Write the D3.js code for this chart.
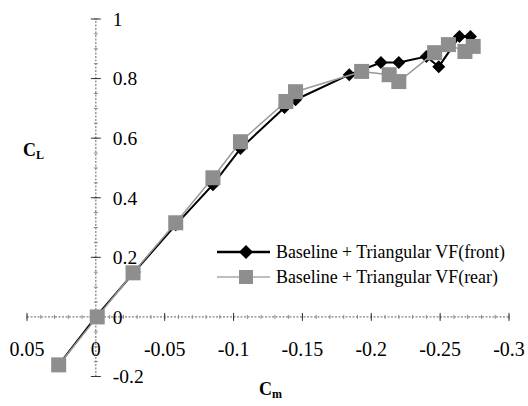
<!DOCTYPE html>
<html>
<head>
<meta charset="utf-8">
<script src="https://cdn.jsdelivr.net/npm/d3@7"></script>
<style>
  body { margin: 0; background: #fff; }
</style>
</head>
<body>
<svg id="chart" width="528" height="406"></svg>
<script>
// Baseline + Triangular VF(front)
const cmFront = [0.027, 0, -0.028, -0.058, -0.085, -0.105, -0.137, -0.145, -0.184, -0.207, -0.220, -0.240, -0.249, -0.264, -0.272];
const clFront = [-0.161, 0, 0.151, 0.309, 0.444, 0.565, 0.703, 0.729, 0.813, 0.854, 0.854, 0.874, 0.840, 0.941, 0.941];

// Baseline + Triangular VF(rear)
const cmRear = [0.027, -0.001, -0.027, -0.058, -0.085, -0.105, -0.138, -0.145, -0.193, -0.213, -0.220, -0.246, -0.256, -0.268, -0.274];
const clRear = [-0.161, 0, 0.148, 0.316, 0.467, 0.588, 0.723, 0.756, 0.824, 0.813, 0.790, 0.887, 0.914, 0.891, 0.908];

const xTicks = [0.05, 0, -0.05, -0.1, -0.15, -0.2, -0.25, -0.3];
const yTicks = [-0.2, 0, 0.2, 0.4, 0.6, 0.8, 1];

const seriesNames = ['Baseline + Triangular VF(front)', 'Baseline + Triangular VF(rear)'];

const serif = 'Liberation Serif';

const svg = d3.select('#chart');

const x = d3.scaleLinear().domain([0.05, -0.3]).range([27, 509]);
const y = d3.scaleLinear().domain([-0.2, 1]).range([376.5, 19]);

const fmt = (d) => (d === 0 ? '0' : String(+d.toFixed(2)));

// minor ticks
const xMinor = d3.range(0, 36).map((i) => +(0.05 - i * 0.01).toFixed(2));
const yMinor = d3.range(0, 25).map((i) => +(-0.2 + i * 0.05).toFixed(2));

// x axis (crosses at CL = 0)
const gx = svg.append('g').attr('transform', 'translate(0,' + y(0) + ')');
gx.append('line')
  .attr('x1', x(0.05)).attr('x2', x(-0.3))
  .attr('stroke', '#666').attr('stroke-dasharray', '2,1.5');
gx.selectAll('.minor')
  .data(xMinor)
  .enter()
  .append('line')
  .attr('x1', (d) => x(d)).attr('x2', (d) => x(d))
  .attr('y1', -2).attr('y2', 2)
  .attr('stroke', '#888');
gx.selectAll('.major')
  .data(xTicks)
  .enter()
  .append('line')
  .attr('x1', (d) => x(d)).attr('x2', (d) => x(d))
  .attr('y1', -4).attr('y2', 4)
  .attr('stroke', '#333');
gx.selectAll('.lbl')
  .data(xTicks)
  .enter()
  .append('text')
  .attr('x', (d) => x(d))
  .attr('y', 39)
  .attr('text-anchor', 'middle')
  .attr('font-family', serif)
  .attr('font-size', '20px')
  .text(fmt);

// y axis (crosses at Cm = 0)
const gy = svg.append('g').attr('transform', 'translate(' + x(0) + ',0)');
gy.append('line')
  .attr('y1', y(-0.2)).attr('y2', y(1))
  .attr('stroke', '#666').attr('stroke-dasharray', '2,1.5');
gy.selectAll('.minor')
  .data(yMinor)
  .enter()
  .append('line')
  .attr('y1', (d) => y(d)).attr('y2', (d) => y(d))
  .attr('x1', -2).attr('x2', 2)
  .attr('stroke', '#888');
gy.selectAll('.major')
  .data(yTicks)
  .enter()
  .append('line')
  .attr('y1', (d) => y(d)).attr('y2', (d) => y(d))
  .attr('x1', -5).attr('x2', 5)
  .attr('stroke', '#333');
gy.selectAll('.lbl')
  .data(yTicks)
  .enter()
  .append('text')
  .attr('x', 17)
  .attr('y', (d) => y(d))
  .attr('dy', '0.35em')
  .attr('font-family', serif)
  .attr('font-size', '19.5px')
  .text(fmt);

// axis titles
const tL = svg.append('text').attr('x', 23).attr('y', 156)
  .attr('font-family', serif).attr('font-size', '18px').attr('font-weight', 'bold');
tL.append('tspan').text('C');
tL.append('tspan').attr('font-size', '12px').attr('dy', 3).text('L');

const tM = svg.append('text').attr('x', 259).attr('y', 395)
  .attr('font-family', serif).attr('font-size', '18px').attr('font-weight', 'bold');
tM.append('tspan').text('C');
tM.append('tspan').attr('font-size', '12px').attr('dy', 3).text('m');

const line = d3.line().x((d) => x(d[0])).y((d) => y(d[1]));

const front = cmFront.map((c, i) => [c, clFront[i]]);
const rear = cmRear.map((c, i) => [c, clRear[i]]);

const diamond = (cx, cy, r) =>
  'M' + cx + ',' + (cy - r) + 'L' + (cx + r) + ',' + cy + 'L' + cx + ',' + (cy + r) + 'L' + (cx - r) + ',' + cy + 'Z';

// front series
svg.append('path')
  .datum(front)
  .attr('d', line)
  .attr('fill', 'none')
  .attr('stroke', '#000')
  .attr('stroke-width', 2);
svg.selectAll('.dia')
  .data(front)
  .enter()
  .append('path')
  .attr('d', (d) => diamond(x(d[0]), y(d[1]), 6.5))
  .attr('fill', '#000');

// rear series
svg.append('path')
  .datum(rear)
  .attr('d', line)
  .attr('fill', 'none')
  .attr('stroke', '#9a9a9a')
  .attr('stroke-width', 1.5);
svg.selectAll('.sq')
  .data(rear)
  .enter()
  .append('rect')
  .attr('x', (d) => x(d[0]) - 7.5)
  .attr('y', (d) => y(d[1]) - 7.5)
  .attr('width', 15)
  .attr('height', 15)
  .attr('fill', '#8e8e8e');

// legend
const lg = svg.append('g');
lg.append('line').attr('x1', 217).attr('x2', 270).attr('y1', 252).attr('y2', 252).attr('stroke', '#000').attr('stroke-width', 2.5);
lg.append('path').attr('d', diamond(246, 252, 7)).attr('fill', '#000');
lg.append('line').attr('x1', 217).attr('x2', 270).attr('y1', 277).attr('y2', 277).attr('stroke', '#aaa').attr('stroke-width', 1.5);
lg.append('rect').attr('x', 239).attr('y', 270).attr('width', 14).attr('height', 14).attr('fill', '#8e8e8e');
lg.selectAll('text')
  .data(seriesNames)
  .enter()
  .append('text')
  .attr('x', 276)
  .attr('y', (d, i) => 252 + i * 25)
  .attr('dy', '0.35em')
  .attr('font-family', serif)
  .attr('font-size', '17.9px')
  .text((d) => d);
</script>
</body>
</html>
